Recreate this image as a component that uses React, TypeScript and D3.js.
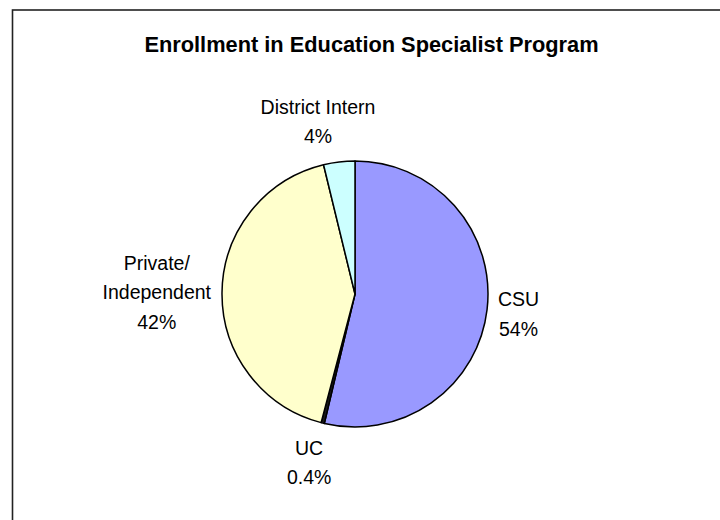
import React from "react";
import * as d3 from "d3";

const title = "Enrollment in Education Specialist Program";
const categories = ["CSU", "UC", "Private/ Independent", "District Intern"];
const labelLines = [["CSU"], ["UC"], ["Private/", "Independent"], ["District Intern"]];
const values = [53.7, 0.4, 42.1, 3.8];
const percentLabels = ["54%", "0.4%", "42%", "4%"];
const colors = ["#9999FF", "#1a1a1a", "#FFFFCC", "#CCFFFF"];

const W = 720;
const H = 520;
const FONT = "'Liberation Sans', Arial, sans-serif";
const LABEL_SIZE = 19.5;
const LINE = 29.5;

function measure(text: string, size: number, weight = "normal"): number {
  const c = document.createElement("canvas").getContext("2d");
  if (!c) return text.length * size * 0.55;
  c.font = `${weight} ${size}px ${FONT}`;
  return c.measureText(text).width;
}

export default function App() {
  const cx = 355;
  const cy = 294;
  const r = 133;
  const pad = 11;

  const data = categories.map((c, i) => ({ c, v: values[i], i }));
  const pie = d3.pie<any>().sort(null).value((d: any) => d.v);
  const arcs = pie(data);
  const arc = d3.arc<any>().innerRadius(0).outerRadius(r);

  return (
    <svg width={W} height={H} style={{ position: "absolute", left: 0, top: 0 }} fontFamily={FONT}>
      <rect x={0} y={0} width={W} height={H} fill="#fff" />
      <rect x={12.5} y={10} width={718} height={530} fill="#fff" stroke="#222" strokeWidth={1.6} />
      <text x={371.5} y={51.5} textAnchor="middle" fontWeight="bold" fontSize={21.8} fill="#000">
        {title}
      </text>
      <g transform={`translate(${cx},${cy})`}>
        {arcs.map((a, i) => (
          <path key={i} d={arc(a) as string} fill={colors[a.data.i]} stroke="#000" strokeWidth={1.5} strokeLinejoin="round" />
        ))}
      </g>
      {arcs.map((a, i) => {
        const lines = [...labelLines[a.data.i], percentLabels[a.data.i]];
        const mid = (a.startAngle + a.endAngle) / 2;
        const sx = Math.sin(mid);
        const sy = -Math.cos(mid);
        const w = Math.max(...lines.map((l) => measure(l, LABEL_SIZE)));
        const h = lines.length * LINE;
        const ax = cx + (r + pad) * sx;
        const ay = cy + (r + pad) * sy;
        const bx = ax + (w / 2) * Math.sign(sx) * Math.sqrt(Math.abs(sx));
        const by = ay + (h / 2) * sy;
        return (
          <text key={i} fontSize={LABEL_SIZE} textAnchor="middle" fill="#000">
            {lines.map((l, j) => (
              <tspan key={j} x={bx} y={by + (j - (lines.length - 1) / 2) * LINE + 7}>
                {l}
              </tspan>
            ))}
          </text>
        );
      })}
    </svg>
  );
}
